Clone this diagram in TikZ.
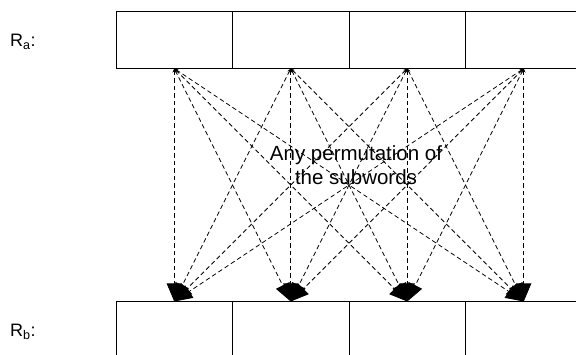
\documentclass[tikz,border=0pt]{standalone}
\usepackage{fontspec}
\setmainfont{Liberation Sans}
\usetikzlibrary{arrows.meta}

\tikzset{
  cell/.style={draw, line width=0.9pt, minimum width=116.5pt, minimum height=57.5pt,
    inner sep=0pt, outer sep=0pt},
  rowlabel/.style={anchor=base west, inner sep=0pt, font=\fontsize{18}{21}\selectfont},
  conn/.style={line width=0.8pt, dash pattern=on 4.5pt off 3pt,
    {Stealth[length=4pt,width=3.5pt]}-{Triangle[length=18pt,width=15pt]}}
}

\begin{document}
\begin{tikzpicture}[x=1pt,y=-1pt]
  \useasboundingbox (0,0) rectangle (576,355);
  \def\W{116.5}
  \def\X{174.25}

  % the two rows of subwords
  \foreach \i in {1,...,4} {
    \node[cell] (ra\i) at ({\X+(\i-1)*\W},39.75) {};
    \node[cell] (rb\i) at ({\X+(\i-1)*\W},330.25) {};
  }

  \node[rowlabel] (labA) at (10,47) {R\textsubscript{a}:};
  \node[rowlabel] (labB) at (10,336.7) {R\textsubscript{b}:};

  % every subword of R_a to every place in R_b
  \foreach \i in {1,...,4}
    \foreach \j in {1,...,4}
      \draw[conn] (ra\i.south) -- (rb\j.north);

  \node[align=center, font=\fontsize{20.5}{24.3}\selectfont, inner sep=0pt]
    (perm) at (356,165.5) {Any permutation of\\the subwords};
\end{tikzpicture}
\end{document}
